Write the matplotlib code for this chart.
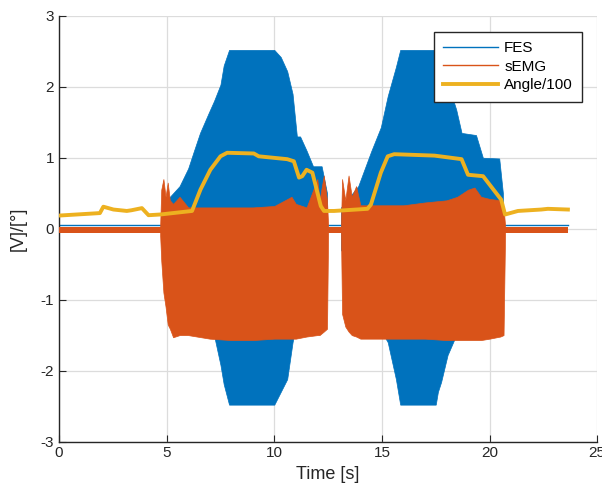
import numpy as np
import matplotlib
matplotlib.use('Agg')
import matplotlib.pyplot as plt
from matplotlib.lines import Line2D

plt.rcParams['font.family'] = ['Liberation Sans', 'DejaVu Sans']
plt.rcParams['axes.unicode_minus'] = False

# ── colours (MATLAB default order) ──
C_FES = '#0072BD'
C_EMG = '#D95319'
C_ANG = '#EDB120'

# ── baseline (rest periods) ──
base_t = [0.0, 23.64]
fes_base = [0.045, 0.045]
emg_base_hi = [0.03, 0.03]
emg_base_lo = [-0.06, -0.06]

# ── FES envelope, burst 1 ──
fes1_t = [4.75, 5.0, 5.6, 6.0, 6.25, 6.55, 6.95, 7.2, 7.5, 7.65, 7.9,
          10.0, 10.3, 10.6, 10.85, 11.05, 11.2, 11.5, 11.8, 12.2, 12.45]
fes1_hi = [0.05, 0.4, 0.6, 0.85, 1.08, 1.35, 1.63, 1.8, 2.03, 2.3, 2.52,
           2.52, 2.42, 2.22, 1.9, 1.3, 1.3, 1.1, 0.88, 0.88, 0.5]
fes1_lo = [-0.05, -0.4, -0.6, -0.85, -1.08, -1.35, -1.45, -1.5, -1.92, -2.19, -2.48,
           -2.48, -2.3, -2.12, -1.6, -1.3, -1.3, -1.1, -0.88, -0.88, -0.5]

# ── FES envelope, burst 2 ──
fes2_t = [13.1, 13.9, 14.5, 14.95, 15.27, 15.65, 15.85, 17.5, 17.6, 17.75,
          18.05, 18.45, 18.7, 19.37, 19.69, 20.45, 20.62]
fes2_hi = [0.3, 0.6, 1.09, 1.43, 1.87, 2.28, 2.52, 2.52, 2.4, 2.3,
           2.06, 1.68, 1.35, 1.32, 1.0, 0.99, 0.5]
fes2_lo = [-0.3, -0.6, -1.09, -1.43, -1.6, -2.12, -2.48, -2.48, -2.3, -2.16,
           -1.78, -1.5, -1.35, -1.32, -1.0, -0.99, -0.5]

# ── sEMG envelope, burst 1 ──
emg1_t = [4.7, 4.75, 4.85, 4.95, 5.05, 5.15, 5.3, 5.6, 6.0, 7.0, 8.0, 9.0,
          10.0, 10.8, 11.0, 11.5, 12.0, 12.1, 12.3, 12.45, 12.5]
emg1_hi = [0.05, 0.55, 0.7, 0.45, 0.65, 0.4, 0.35, 0.45, 0.3, 0.3, 0.3, 0.3,
           0.32, 0.45, 0.35, 0.3, 0.7, 0.4, 0.75, 0.4, 0.05]
emg1_lo = [-0.1, -0.45, -0.9, -1.1, -1.35, -1.41, -1.53, -1.5, -1.5, -1.55, -1.57, -1.57,
           -1.55, -1.55, -1.55, -1.52, -1.5, -1.5, -1.45, -1.41, -0.1]

# ── sEMG envelope, burst 2 ──
emg2_t = [13.1, 13.15, 13.3, 13.45, 13.6, 13.8, 14.0, 15.0, 16.0, 17.0, 18.0,
          18.5, 19.0, 19.3, 19.6, 20.0, 20.5, 20.65, 20.72]
emg2_hi = [0.05, 0.7, 0.4, 0.75, 0.45, 0.6, 0.33, 0.33, 0.33, 0.37, 0.4,
           0.45, 0.55, 0.58, 0.45, 0.42, 0.4, 0.3, 0.05]
emg2_lo = [-0.1, -1.2, -1.38, -1.45, -1.5, -1.52, -1.55, -1.55, -1.55, -1.55, -1.57,
           -1.57, -1.57, -1.57, -1.57, -1.55, -1.52, -1.5, -0.1]

# ── knee angle / 100 ──
ang_t = [0.0, 1.9, 2.06, 2.53, 3.15, 3.37, 3.85, 4.16, 4.7, 6.18, 6.57, 7.03, 7.5,
         7.81, 9.05, 9.28, 10.6, 10.91, 11.15, 11.3, 11.5, 11.77, 12.16, 12.31,
         12.78, 14.33, 14.49, 14.95, 15.27, 15.57, 17.44, 18.7, 19.0, 19.7,
         20.54, 20.72, 21.32, 22.4, 22.71, 23.64]
ang_v = [0.185, 0.22, 0.31, 0.27, 0.25, 0.26, 0.29, 0.19, 0.2, 0.25, 0.55, 0.83, 1.02,
         1.07, 1.06, 1.02, 0.98, 0.95, 0.72, 0.74, 0.83, 0.79, 0.32, 0.25,
         0.25, 0.28, 0.34, 0.79, 1.02, 1.05, 1.03, 0.98, 0.76, 0.74,
         0.41, 0.2, 0.25, 0.27, 0.28, 0.27]

fig = plt.figure(figsize=(6.02, 4.95), dpi=100)
ax = fig.add_axes([0.098, 0.108, 0.894, 0.860])

# FES
ax.plot(base_t, fes_base, color=C_FES, lw=1.0, zorder=2)
ax.fill_between(fes1_t, fes1_lo, fes1_hi, color=C_FES, lw=0.5, zorder=2)
ax.fill_between(fes2_t, fes2_lo, fes2_hi, color=C_FES, lw=0.5, zorder=2)

# sEMG
ax.fill_between(base_t, emg_base_lo, emg_base_hi, color=C_EMG, lw=0, zorder=3)
ax.fill_between(emg1_t, emg1_lo, emg1_hi, color=C_EMG, lw=0.5, zorder=3)
ax.fill_between(emg2_t, emg2_lo, emg2_hi, color=C_EMG, lw=0.5, zorder=3)

# Angle
ax.plot(ang_t, ang_v, color=C_ANG, lw=2.8, zorder=4)

ax.set_xlim(0, 25)
ax.set_ylim(-3, 3)
ax.set_xticks([0, 5, 10, 15, 20, 25])
ax.set_yticks([-3, -2, -1, 0, 1, 2, 3])
ax.grid(True, color='#dcdcdc', lw=0.9)
ax.set_axisbelow(True)
for s in ['top', 'right']:
    ax.spines[s].set_visible(False)
for s in ['left', 'bottom']:
    ax.spines[s].set_color('#262626')
    ax.spines[s].set_linewidth(1.0)
ax.tick_params(direction='in', length=5, labelsize=11, colors='#262626')

ax.set_xlabel('Time [s]', fontsize=13, color='#262626', labelpad=4)
ax.set_ylabel('[V]/[°]', fontsize=13, color='#262626', labelpad=10)

handles = [Line2D([], [], color=C_FES, lw=1.0),
           Line2D([], [], color=C_EMG, lw=1.0),
           Line2D([], [], color=C_ANG, lw=2.8)]
leg = ax.legend(handles, ['FES', 'sEMG', 'Angle/100'], loc='upper right',
                bbox_to_anchor=(0.972, 0.962), borderaxespad=0, fontsize=11,
                handlelength=3.6, handletextpad=0.4, labelspacing=0.3,
                borderpad=0.6, fancybox=False, framealpha=1)
leg.get_frame().set_edgecolor('#262626')
leg.get_frame().set_linewidth(1.0)

fig.savefig('out.png', dpi=100)
